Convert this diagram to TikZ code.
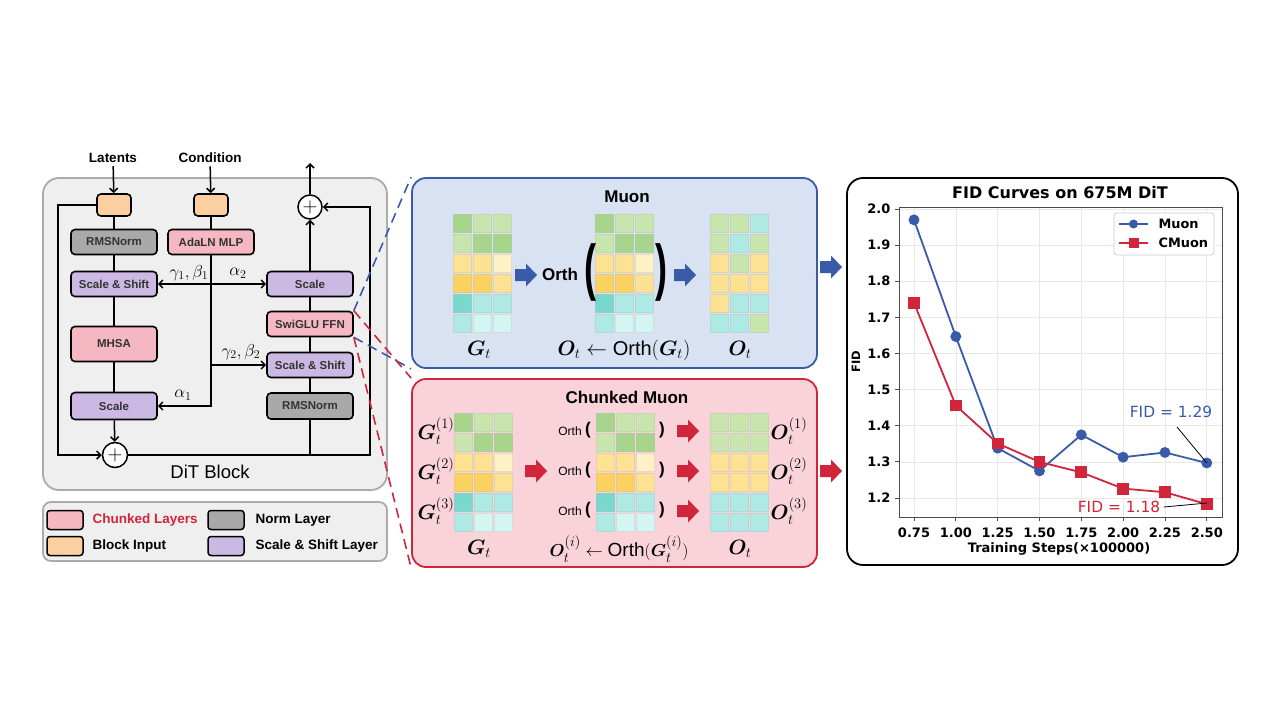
\documentclass[tikz,border=0pt]{standalone}
\usepackage{amsmath,bm}
\usepackage{fontspec}
\setmainfont{Liberation Sans}
\newfontfamily\plotfont{DejaVu Sans}
\usetikzlibrary{arrows.meta,plotmarks}

\definecolor{pinkL}{HTML}{F5B8C2}
\definecolor{orangeL}{HTML}{FBCFA0}
\definecolor{grayL}{HTML}{A9A9A9}
\definecolor{purpL}{HTML}{CBB9E3}
\definecolor{ditbg}{HTML}{EFEFEF}
\definecolor{ditbd}{HTML}{ABABAB}
\definecolor{muonbg}{HTML}{D9E2F3}
\definecolor{muonc}{HTML}{3A5CA8}
\definecolor{chunkbg}{HTML}{F9D3D9}
\definecolor{cmuonc}{HTML}{D0253A}
\definecolor{gA}{HTML}{A8D58C}
\definecolor{gB}{HTML}{C9E5AE}
\definecolor{yA}{HTML}{FDE293}
\definecolor{yB}{HTML}{FFF1C6}
\definecolor{yC}{HTML}{FBD25F}
\definecolor{tA}{HTML}{78D8CC}
\definecolor{tB}{HTML}{AEE9E3}
\definecolor{tC}{HTML}{D4F6F2}

\tikzstyle{block}=[draw,line width=1.6pt,rounded corners=4pt,inner sep=0pt,minimum width=86pt,minimum height=25pt,font=\fontsize{11.5}{13}\selectfont\bfseries,text=black!80]
\tikzstyle{chunkblk}=[block,fill=pinkL]
\tikzstyle{normblk}=[block,fill=grayL]
\tikzstyle{ssblk}=[block,fill=purpL]
\tikzstyle{inblk}=[block,fill=orangeL,minimum width=34pt,minimum height=22pt]
\tikzstyle{wire}=[draw,line width=1.5pt]
\tikzstyle{sum}=[draw,circle,line width=1.5pt,fill=white,minimum size=25pt,inner sep=0pt]
\tikzstyle{panel}=[draw,line width=1.8pt,rounded corners=14pt,inner sep=0pt]
\tikzstyle{swatch}=[draw,line width=1.5pt,rounded corners=3pt,minimum width=36pt,minimum height=19pt,inner sep=0pt]
\tikzstyle{legtext}=[anchor=west,font=\fontsize{13.5}{15}\selectfont\bfseries]
\tikzstyle{link}=[draw,line width=1.6pt,dash pattern=on 10pt off 6pt]
\tikzstyle{mlabel}=[font=\fontsize{20}{22}\selectfont]
\tikzstyle{greek}=[font=\fontsize{18}{20}\selectfont]
\tikzstyle{bigparen}=[font=\fontsize{36}{36}\selectfont\bfseries,yscale=1.72,inner sep=0pt]
\tikzstyle{tick}=[font=\plotfont\fontsize{13}{15}\selectfont\bfseries]
\tikzstyle{curve}=[line width=1.8pt,mark size=4.5pt,mark options={solid}]

% matrix of coloured cells: left, top, rows of colours
\newcommand{\cellmat}[3]{%
  \foreach \rowc [count=\r from 0] in #3 {
    \foreach \cc [count=\k from 0] in \rowc
      \filldraw[fill=\cc,draw=\cc!85!black!70,line width=0.5pt] ({#1+20*\k},{#2+20*\r}) rectangle ++(18,18);
  }}
% filled block arrow: centre x, centre y, colour
\newcommand{\blkarrow}[3]{%
  \fill[#3] (#1-11,#2-6) -- (#1,#2-6) -- (#1,#2-11.5) -- (#1+11,#2) -- (#1,#2+11.5) -- (#1,#2+6) -- (#1-11,#2+6) -- cycle;}

\def\gmat{{gA,gB,gB},{gB,gA,gA},{yA,yA,yB},{yC,yC,yA},{tA,tB,tB},{tB,tC,tC}}
\def\omat{{gB,gB,tB},{gB,tB,gB},{yA,gB,yA},{yA,yA,yA},{yA,tB,tB},{tB,tB,gB}}
\def\cmat{{gB,gB,gB},{gB,gB,gB},{yA,yA,yA},{yA,yA,yA},{tB,tB,tB},{tB,tB,tB}}

\begin{document}
\begin{tikzpicture}[x=1pt,y=-1pt,>={Straight Barb[length=4pt,width=8pt]}]
    \fill[white] (0,0) rectangle (1280,720);
    \useasboundingbox (0,0) rectangle (1280,720);

    % First we draw the panels
    \node[panel,fill=ditbg,draw=ditbd,minimum width=344pt,minimum height=312pt,rounded corners=16pt] (dit) at (215,334) {};
    \node[panel,fill=ditbg,draw=ditbd,minimum width=344pt,minimum height=59pt,rounded corners=8pt] (leg) at (215,531.5) {};
    \node[panel,fill=muonbg,draw=muonc,minimum width=405pt,minimum height=190pt] (muon) at (614.5,273) {};
    \node[panel,fill=chunkbg,draw=cmuonc,minimum width=405pt,minimum height=188pt] (chunk) at (614.5,473) {};
    \node[panel,fill=white,draw=black,minimum width=391pt,minimum height=387pt,rounded corners=16pt] (fidp) at (1042.5,371.5) {};

    % DiT block
    \node[font=\fontsize{13.5}{15}\selectfont\bfseries] (lat) at (113,158) {Latents};
    \node[font=\fontsize{13.5}{15}\selectfont\bfseries] (cond) at (210,158) {Condition};
    \node[inblk] (latin) at (114,205) {};
    \node[inblk] (condin) at (211,205) {};
    \node[normblk] (norm1) at (114,242) {RMSNorm};
    \node[chunkblk] (ada) at (211,242) {AdaLN MLP};
    \node[ssblk] (ss1) at (114,284) {Scale \& Shift};
    \node[chunkblk,minimum height=35pt] (mhsa) at (114,344) {MHSA};
    \node[ssblk,minimum height=27pt] (sc1) at (114,406) {Scale};
    \node[ssblk] (sc2) at (310,284) {Scale};
    \node[chunkblk] (ffn) at (310,324) {SwiGLU FFN};
    \node[ssblk] (ss2) at (310,365) {Scale \& Shift};
    \node[normblk,minimum height=26pt] (norm2) at (310,406) {RMSNorm};
    \node[sum] (plus1) at (115,455) {\fontsize{22}{22}\selectfont $+$};
    \node[sum,minimum size=24pt] (plus2) at (310,207) {\fontsize{22}{22}\selectfont $+$};
    \node[font=\fontsize{18.5}{20}\selectfont] (ditname) at (210,472) {DiT Block};
    \coordinate (resL) at (58,205);
    \coordinate (resR) at (370,455);
    \coordinate (out) at (310,163);

    % Connect blocks with wires
    \path[wire,->] (lat) -- (latin);
    \path[wire,->] (cond) -- (condin);
    \path[wire] (latin) -- (norm1) -- (ss1) -- (mhsa) -- (sc1);
    \path[wire,->] (sc1) -- (plus1);
    \path[wire,->] (latin.west) -- (resL) |- (plus1.west);
    \path[wire,->] (plus1.east) -- (resR) |- (plus2.east);
    \path[wire] (norm2.south) -- (norm2.south |- plus1.east);
    \path[wire] (norm2) -- (ss2) -- (ffn) -- (sc2);
    \path[wire,->] (sc2) -- (plus2);
    \path[wire,->] (plus2) -- (out);
    \path[wire] (condin) -- (ada);
    \path[wire,->] (ada.south) |- (sc1.east);
    \path[wire,<->] (ss1.east) -- (sc2.west);
    \path[wire,->] (ada.south |- ss2.west) -- (ss2.west);
    \node[greek] at (189,273) {$\gamma_1,\beta_1$};
    \node[greek] at (238,273) {$\alpha_2$};
    \node[greek] at (241,352) {$\gamma_2,\beta_2$};
    \node[greek] at (183,395) {$\alpha_1$};

    % Legend
    \node[swatch,fill=pinkL] (swp) at (65,520) {};
    \node[swatch,fill=orangeL] (swo) at (65,546) {};
    \node[swatch,fill=grayL] (swg) at (226,520) {};
    \node[swatch,fill=purpL] (swv) at (226,546) {};
    \node[legtext,text=cmuonc] at (89,520) {Chunked Layers};
    \node[legtext] at (89,546) {Block Input};
    \node[legtext] at (252,520) {Norm Layer};
    \node[legtext] at (252,546) {Scale \& Shift Layer};

    % Dashed links to the optimizer panels
    \path[link,draw=muonc] (ffn.north east) -- (muon.north west);
    \path[link,draw=muonc] (ffn.south east) -- (muon.south west);
    \path[link,draw=cmuonc] (ffn.north east) -- (chunk.north west);
    \path[link,draw=cmuonc] (ffn.south east) -- (chunk.south west);

    % Muon panel
    \node[font=\fontsize{17}{19}\selectfont\bfseries] at (627,197) {Muon};
    \cellmat{453}{214}{\gmat}
    \cellmat{595}{214}{\gmat}
    \cellmat{710}{214}{\omat}
    \blkarrow{526}{275}{muonc}
    \blkarrow{685}{275}{muonc}
    \node[font=\fontsize{17}{19}\selectfont\bfseries] at (560,274) {Orth};
    \node[bigparen] at (590,272) {(};
    \node[bigparen] at (661,272) {)};
    \node[mlabel] at (479,350) {$\bm{G}_t$};
    \node[mlabel] at (624,350) {$\bm{O}_t \leftarrow \text{Orth}(\bm{G}_t)$};
    \node[mlabel] at (740,350) {$\bm{O}_t$};

    % Chunked Muon panel
    \node[font=\fontsize{17}{19}\selectfont\bfseries] at (627,397) {Chunked Muon};
    \cellmat{454}{413}{\gmat}
    \cellmat{596}{413}{\gmat}
    \cellmat{710}{413}{\cmat}
    \blkarrow{536}{471}{cmuonc}
    \foreach \yy [count=\i] in {431,471,511} {
        \blkarrow{688}{\yy}{cmuonc}
        \node[font=\fontsize{12}{13}\selectfont] at (570,\yy) {Orth};
        \node[font=\fontsize{17}{17}\selectfont\bfseries] at (588,\yy-1) {(};
        \node[font=\fontsize{17}{17}\selectfont\bfseries] at (662,\yy-1) {)};
        \node[mlabel] at (436,\yy) {$\bm{G}_t^{(\i)}$};
        \node[mlabel] at (789,\yy) {$\bm{O}_t^{(\i)}$};
    }
    \node[mlabel] at (479,549) {$\bm{G}_t$};
    \node[mlabel,font=\fontsize{19}{21}\selectfont] at (619,549) {$\bm{O}_t^{(i)} \leftarrow \text{Orth}(\bm{G}_t^{(i)})$};
    \node[mlabel] at (740,549) {$\bm{O}_t$};

    % Arrows into the plot
    \blkarrow{831}{267}{muonc}
    \blkarrow{831}{471}{cmuonc}

    % FID plot
    \node[font=\plotfont\fontsize{16}{18}\selectfont\bfseries] at (1060,193) {FID Curves on 675M DiT};
    \node[font=\plotfont\fontsize{11.5}{13}\selectfont\bfseries,rotate=90] at (856,362) {FID};
    \node[tick] at (1059,549) {Training Steps(×100000)};
    \begin{scope}[shift={(914,209)},x=167.3pt,y=361.25pt,shift={(-0.75,-2)}]
        \foreach \s in {0.75,1.00,...,2.50}
            \draw[black!9,line width=0.6pt] (\s,1.1474) -- (\s,2.0055);
        \foreach \v in {1.2,1.3,...,2.05}
            \draw[black!9,line width=0.6pt] (0.6603,\v) -- (2.591,\v);
        \draw[black!70,line width=0.8pt] (0.6603,1.1474) rectangle (2.591,2.0055);
        \foreach \s/\lab in {0.75/0.75,1.00/1.00,1.25/1.25,1.50/1.50,1.75/1.75,2.00/2.00,2.25/2.25,2.50/2.50} {
            \draw[black!70,line width=0.8pt] (\s,1.1474) -- ++(0,-4pt);
            \node[tick,anchor=base] at ([yshift=-20pt]\s,1.1474) {\lab};
        }
        \foreach \v in {1.2,1.3,1.4,1.5,1.6,1.7,1.8,1.9,2.0} {
            \draw[black!70,line width=0.8pt] (0.6603,\v) -- ++(-4pt,0);
            \node[tick,anchor=east] at ([xshift=-5pt]0.6603,\v) {\v};
        }
        \draw[curve,muonc] plot[mark=*] coordinates {(0.75,1.97) (1.00,1.647) (1.25,1.338) (1.50,1.275) (1.75,1.375) (2.00,1.313) (2.25,1.326) (2.50,1.297)};
        \draw[curve,cmuonc,mark size=5pt] plot[mark=square*] coordinates {(0.75,1.74) (1.00,1.456) (1.25,1.351) (1.50,1.30) (1.75,1.271) (2.00,1.226) (2.25,1.216) (2.50,1.183)};
        \coordinate (mend) at (2.50,1.297);
        \coordinate (cend) at (2.50,1.186);
    \end{scope}
    \node[font=\plotfont\fontsize{15.4}{17}\selectfont,text=muonc] (fidm) at (1171,412) {FID = 1.29};
    \node[font=\plotfont\fontsize{15.4}{17}\selectfont,text=cmuonc] (fidc) at (1119,507) {FID = 1.18};
    \coordinate (fidmfoot) at (1177,427);
    \draw[line width=0.8pt] (fidmfoot) -- (mend);
    \draw[line width=0.8pt] (fidc.east) -- (cend);
    % legend of the plot
    \draw[black!20,fill=white,line width=0.8pt,rounded corners=3pt] (1114,213) rectangle (1214,255);
    \draw[curve,muonc] (1119,224) -- (1148,224);
    \fill[muonc] (1133.5,224) circle (4.5);
    \draw[curve,cmuonc] (1119,243) -- (1148,243);
    \fill[cmuonc] (1128.5,238) rectangle (1138.5,248);
    \node[tick,anchor=west,font=\plotfont\fontsize{12.9}{14}\selectfont\bfseries] at (1155,224) {Muon};
    \node[tick,anchor=west,font=\plotfont\fontsize{12.9}{14}\selectfont\bfseries] at (1155,243) {CMuon};
\end{tikzpicture}
\end{document}
